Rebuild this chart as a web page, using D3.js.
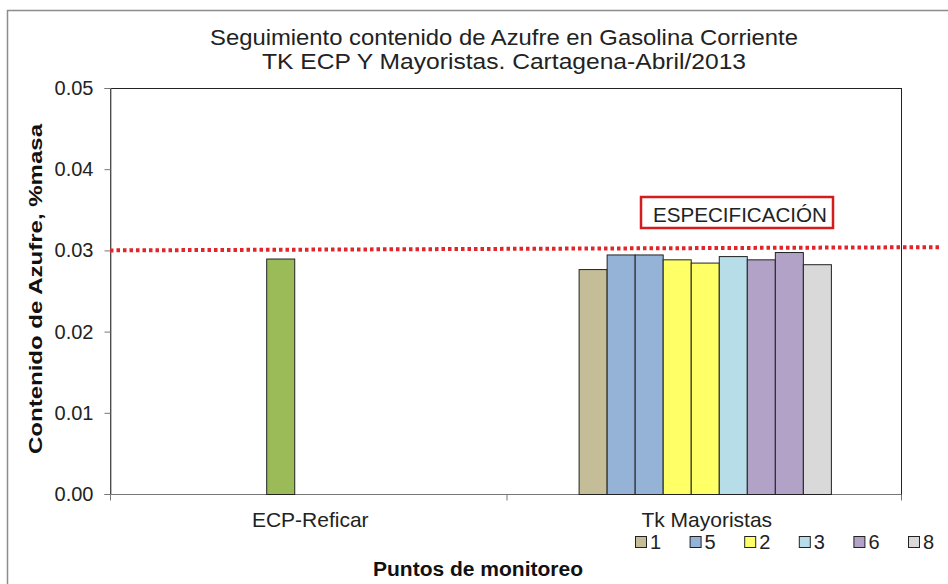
<!DOCTYPE html>
<html>
<head>
<meta charset="utf-8">
<script src="https://cdn.jsdelivr.net/npm/d3@7"></script>
<style>
  body { margin: 0; background: #fff; }
  svg { font-family: "Liberation Sans", Arial, sans-serif; }
</style>
</head>
<body>
<div id="chart"></div>
<script>
// data
const categories = ['ECP-Reficar', 'Tk Mayoristas']
const ecpValues = [0.0290]
const tkNames = ['1', '5', '5', '2', '2', '3', '6', '6', '8']
const tkValues = [0.0277, 0.0295, 0.0295, 0.0289, 0.0285, 0.0293, 0.0289, 0.0298, 0.0283]
const legendNames = ['1', '5', '2', '3', '6', '8']
const yTicks = [0, 0.01, 0.02, 0.03, 0.04, 0.05]
const specStart = 0.0300
const specEnd = 0.0304

const colors = {
  'ECP': '#9bbb59',
  '1': '#c4bd97',
  '5': '#95b3d7',
  '2': '#ffff66',
  '3': '#b7dde8',
  '6': '#b3a2c7',
  '8': '#d9d9d9'
}

const width = 948, height = 584
const margin = { left: 110, right: 45, top: 88, bottom: 90 }

const svg = d3.select('#chart')
.append('svg')
.attr('width', width)
.attr('height', height)

// outer frame
svg.append('rect')
.attr('x', 7.5).attr('y', 10.5)
.attr('width', 960).attr('height', 620)
.attr('fill', 'none')
.attr('stroke', '#8c8c8c')
.attr('stroke-width', 1.5)

const x0 = d3.scaleBand()
.domain(categories)
.range([margin.left, width - margin.right])

const y = d3.scaleLinear()
.domain([0, 0.05])
.range([height - margin.bottom, margin.top])

// bars in a cluster are about 28px wide: 9 slots fill ~63% of the category
const step = x0.bandwidth() * 0.0707

const bars = []
ecpValues.forEach((v, i) => bars.push({ cat: categories[0], slot: i, n: 3, name: 'ECP', value: v }))
tkValues.forEach((v, i) => bars.push({ cat: categories[1], slot: i, n: tkValues.length, name: tkNames[i], value: v }))

const barX = d => x0(d.cat) + x0.bandwidth() / 2 - d.n * step / 2 + d.slot * step

// plot frame
svg.append('rect')
.attr('x', margin.left + 0.5)
.attr('y', margin.top + 0.5)
.attr('width', width - margin.right - margin.left - 2)
.attr('height', height - margin.bottom - margin.top)
.attr('fill', 'none')
.attr('stroke', '#222')

// y axis
const yAxis = svg.append('g')
.attr('transform', `translate(${margin.left + 0.5},0)`)
.call(d3.axisLeft(y).tickValues(yTicks).tickFormat(d3.format('.2f')).tickSize(6).tickPadding(11))
yAxis.select('.domain').attr('stroke', '#777')
yAxis.selectAll('.tick line').attr('stroke', '#777')
yAxis.selectAll('text')
.attr('font-size', 20)
.attr('fill', '#222')
.attr('font-family', '"Liberation Sans", Arial, sans-serif')

// x axis with ticks on category boundaries
const xAxis = svg.append('g')
.attr('transform', `translate(0,${height - margin.bottom + 0.5})`)
xAxis.append('line')
.attr('x1', margin.left).attr('x2', width - margin.right - 2)
.attr('stroke', '#777')
const bounds = categories.map(c => x0(c)).concat([x0.range()[1] - 2])
xAxis.selectAll('.xtick')
.data(bounds)
.enter()
.append('line')
.attr('x1', d => d + 0.5).attr('x2', d => d + 0.5)
.attr('y1', 0).attr('y2', 6)
.attr('stroke', '#777')
xAxis.selectAll('.xlabel')
.data(categories)
.enter()
.append('text')
.attr('x', d => x0(d) + x0.bandwidth() / 2 + 2)
.attr('y', 32)
.attr('text-anchor', 'middle')
.attr('font-size', 21)
.attr('fill', '#222')
.text(d => d)

// bars
svg.append('g')
.selectAll('rect')
.data(bars)
.enter()
.append('rect')
.attr('x', d => barX(d) + 0.5)
.attr('y', d => y(d.value) + 0.5)
.attr('width', step)
.attr('height', d => y(0) - y(d.value))
.attr('fill', d => colors[d.name])
.attr('stroke', '#222')
.attr('stroke-width', 1)

// specification line
svg.append('line')
.attr('x1', margin.left)
.attr('x2', width - 6)
.attr('y1', y(specStart))
.attr('y2', y(specEnd))
.attr('stroke', '#e0262a')
.attr('stroke-width', 4)
.attr('stroke-dasharray', '3.5,3')

// specification label
svg.append('rect')
.attr('x', 641).attr('y', 197)
.attr('width', 192).attr('height', 31)
.attr('fill', '#fff')
.attr('stroke', '#d41c1c')
.attr('stroke-width', 2.5)
svg.append('text')
.attr('x', 740).attr('y', 222)
.attr('text-anchor', 'middle')
.attr('font-size', 21)
.attr('textLength', 174)
.attr('lengthAdjust', 'spacingAndGlyphs')
.attr('fill', '#222')
.text('ESPECIFICACIÓN')

// title
const title = svg.append('text')
.attr('text-anchor', 'middle')
.attr('font-size', 22)
.attr('fill', '#222')
title.append('tspan').attr('x', 504).attr('y', 45).attr('textLength', 588).attr('lengthAdjust', 'spacingAndGlyphs')
.text('Seguimiento  contenido de Azufre en Gasolina Corriente')
title.append('tspan').attr('x', 504).attr('y', 69).attr('textLength', 484).attr('lengthAdjust', 'spacingAndGlyphs')
.text('TK ECP Y Mayoristas. Cartagena-Abril/2013')

// axis titles
svg.append('text')
.attr('transform', `translate(42,289) rotate(-90)`)
.attr('text-anchor', 'middle')
.attr('font-size', 19)
.attr('font-weight', 'bold')
.attr('textLength', 330)
.attr('lengthAdjust', 'spacingAndGlyphs')
.attr('fill', '#111')
.text('Contenido de Azufre, %masa')

svg.append('text')
.attr('x', 478).attr('y', 576)
.attr('text-anchor', 'middle')
.attr('font-size', 20)
.attr('font-weight', 'bold')
.attr('textLength', 210)
.attr('lengthAdjust', 'spacingAndGlyphs')
.attr('fill', '#111')
.text('Puntos  de monitoreo')

// legend
const legend = svg.append('g')
.selectAll('g')
.data(legendNames)
.enter()
.append('g')
.attr('transform', (d, i) => `translate(${635 + i * 54.6},536)`)
legend.append('rect')
.attr('x', 0.5).attr('y', 0.5)
.attr('width', 11).attr('height', 11)
.attr('fill', d => colors[d])
.attr('stroke', '#222')
legend.append('text')
.attr('x', 15).attr('y', 12.5)
.attr('font-size', 20)
.attr('fill', '#222')
.text(d => d)
</script>
</body>
</html>
